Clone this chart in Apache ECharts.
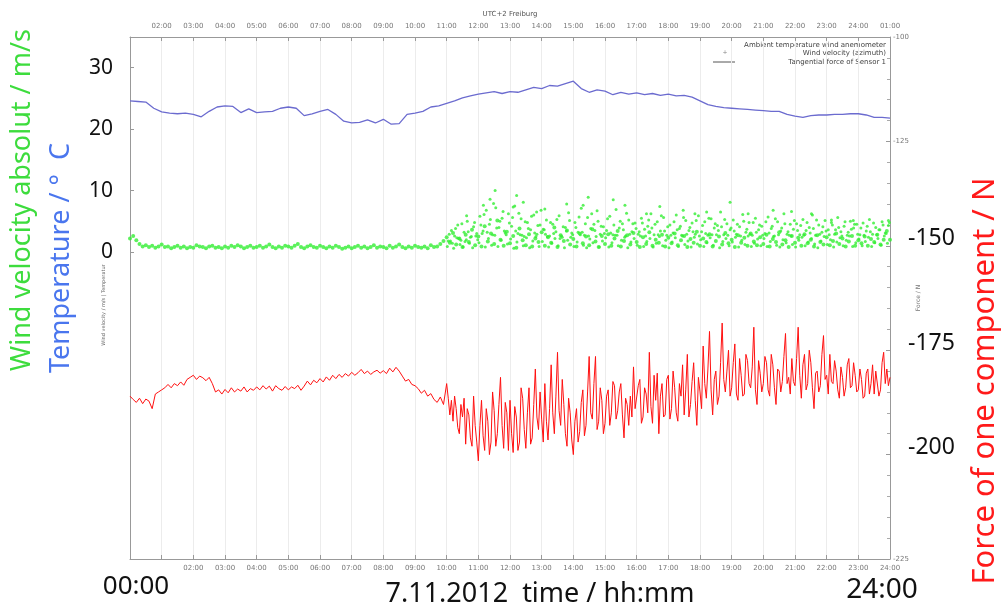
<!DOCTYPE html>
<html>
<head>
<meta charset="utf-8">
<script src="https://cdn.jsdelivr.net/npm/echarts@6/dist/echarts.min.js"></script>
<style>
  html, body { margin: 0; padding: 0; background: #fff; }
  #chart { width: 1003px; height: 607px; }
</style>
</head>
<body>
<div id="chart"></div>
<script>
// time in hours after 00:00 (bottom axis)
const TEMP_STEP = 0.25;
const STEP = 0.1;
const FINE_STEP = 0.05;

// ambient temperature, one value every 15 min, 00:00 .. 24:00
const tempValues = [
  24.6, 24.5, 24.4, 23.4,
  22.8, 22.6, 22.5, 22.6,
  22.4, 22.0, 22.9, 23.6,
  23.8, 23.7, 22.7, 23.3,
  22.7, 22.8, 22.9, 23.4,
  23.6, 23.4, 22.2, 22.5,
  22.9, 23.2, 22.4, 21.3,
  21.0, 21.1, 21.5, 21.0,
  21.6, 20.8, 20.9, 22.4,
  22.6, 22.9, 23.6, 23.8,
  24.2, 24.6, 25.1, 25.4,
  25.7, 25.9, 26.1, 25.8,
  26.1, 26.0, 26.4, 26.8,
  26.6, 27.1, 27.0, 27.4,
  27.8, 26.6, 26.0, 26.4,
  26.2, 25.6, 26.0, 25.7,
  25.9, 25.6, 25.8, 25.5,
  25.7, 25.4, 25.5, 25.2,
  24.6, 24.0, 23.7, 23.5,
  23.4, 23.3, 23.2, 23.1,
  23.0, 22.9, 22.9, 22.4,
  22.1, 21.9, 22.2, 22.3,
  22.3, 22.4, 22.4, 22.5,
  22.5, 22.3, 21.9, 21.9,
  21.8
];

// wind velocity, every 6 min, 00:00 .. 24:00
const windBase = [
  2.2, 2.6, 1.9, 1.3, 0.9, 1.1, 0.8, 1.0, 0.7, 0.9,
  1.2, 0.8, 0.9, 0.6, 0.8, 1.0, 0.7, 0.9, 0.6, 0.8,
  0.7, 1.1, 0.9, 0.8, 0.6, 0.9, 1.0, 0.7, 0.8, 0.6,
  0.9, 0.7, 1.0, 0.8, 1.1, 0.9, 0.6, 0.8, 1.0, 0.7,
  0.8, 1.0, 0.7, 0.9, 1.2, 0.8, 0.6, 0.9, 0.7, 1.0,
  0.9, 0.7, 1.0, 1.3, 0.8, 0.6, 0.9, 1.1, 0.8, 0.7,
  1.0, 0.8, 0.6, 0.9, 0.7, 1.0, 0.8, 0.5, 0.7, 0.9,
  0.6, 0.8, 1.0, 0.7, 0.9, 0.6, 0.8, 1.1, 0.7, 0.9,
  0.8, 0.6, 1.0, 0.7, 0.9, 1.2, 0.8, 0.6, 0.9, 0.7,
  1.0, 0.8, 0.7, 0.9, 0.6, 1.1, 0.8, 0.9, 1.3, 1.8,
  2.4, 1.5, 3.1, 1.2, 2.2, 0.8, 2.8, 1.6, 3.6, 1.1,
  2.5, 0.9, 4.2, 1.7, 3.0, 1.3, 5.1, 2.0, 1.0, 3.3,
  1.4, 2.6, 0.7, 3.8, 1.9, 1.1, 2.9, 0.9, 2.2, 1.6,
  3.2, 1.0, 2.4, 1.5, 4.0, 0.8, 2.7, 1.8, 3.5, 1.2,
  2.1, 0.9, 3.0, 1.4, 2.5, 1.1, 3.7, 1.7, 0.8, 2.6,
  1.3, 2.9, 1.0, 2.2, 3.4, 0.9, 1.8, 2.7, 1.2, 3.1,
  1.6, 0.8, 2.4, 1.3, 3.2, 1.0, 2.0, 1.5, 2.8, 0.9,
  2.3, 1.4, 3.0, 1.1, 1.9, 2.6, 0.8, 2.1, 1.5, 3.3,
  1.0, 2.2, 1.6, 2.9, 0.9, 1.8, 2.5, 1.2, 3.1, 1.4,
  2.0, 0.8, 2.7, 1.5, 2.3, 1.0, 3.0, 1.7, 1.1, 2.4,
  1.3, 2.8, 0.9, 2.1, 1.6, 3.2, 1.2, 1.9, 0.8, 2.6,
  1.5, 2.3, 1.0, 2.9, 1.4, 2.0, 0.9, 2.7, 1.6, 1.2,
  2.4, 1.1, 1.8, 3.0, 1.3, 2.2, 0.9, 1.7, 2.6, 1.0,
  1.9, 1.4, 2.5, 1.0, 2.1, 1.6, 2.8, 1.2, 2.0, 3.4,
  2.0
];

// gusty part of the day: three more readings per 6 min from 10:00 on
const LOW_START = 10.02;
const windLow = [
  0.9, 1.8, 0.6, 2.3, 1.2, 0.8, 2.0, 1.4, 0.7, 2.6,
  1.5, 3.0, 0.8, 2.2, 1.1, 2.7, 0.9, 1.9, 3.4, 1.3,
  2.1, 0.6, 1.6, 2.8, 1.0, 2.3, 0.7, 1.8, 2.5, 0.9,
  1.7, 2.9, 0.8, 1.4, 2.2, 1.0, 2.6, 0.7, 1.9, 2.4,
  0.9, 1.6, 2.8, 1.1, 0.7, 2.1, 1.5, 2.5, 0.8, 1.8,
  2.3, 0.8, 1.5, 2.7, 1.0, 1.9, 2.4, 0.7, 1.6, 2.2,
  1.1, 2.6, 0.9, 1.7, 2.2, 0.8, 1.4, 2.5, 1.0, 1.9,
  0.7, 1.6, 2.3, 0.9, 2.7, 1.2, 1.8, 0.8, 2.4, 1.3,
  2.0, 0.9, 1.5, 2.3, 1.1, 2.8, 0.7, 1.7, 2.2, 1.0,
  1.6, 2.4, 0.8, 1.9, 1.2, 2.6, 0.9, 1.4, 2.1, 1.0,
  2.2, 0.9, 1.7, 2.5, 1.1, 0.8, 2.0, 1.5, 2.7, 1.2,
  0.8, 1.9, 2.4, 1.0, 1.6, 2.2, 1.3, 0.7, 1.8, 2.5,
  1.2, 2.0, 0.8, 1.6, 2.3, 1.0, 1.9, 2.6, 0.9, 1.5,
  2.1, 1.0, 1.7, 2.4, 0.9, 1.5, 2.2, 1.1, 2.6, 1.4
];

const GUST_START = 10.05;
const windGusts = [
  1.8, 3.5, 2.6, 4.4, 1.9, 3.2, 5.0, 2.4, 4.1, 3.0,
  5.8, 3.4, 6.8, 4.5, 2.8, 7.2, 4.0, 5.5, 3.1, 6.2,
  4.2, 7.5, 3.0, 5.4, 2.5, 4.8, 3.6, 6.0, 2.9, 4.4,
  3.7, 5.2, 2.6, 4.5, 3.3, 5.9, 2.4, 4.0, 6.4, 3.1,
  4.8, 3.2, 7.1, 2.7, 5.6, 3.8, 4.5, 6.7, 2.9, 4.1,
  3.5, 5.8, 2.8, 6.9, 3.9, 4.6, 2.6, 5.2, 3.3, 4.7,
  2.9, 5.5, 3.7, 4.2, 6.2, 2.8, 4.9, 3.4, 5.6, 2.7,
  4.4, 3.1, 6.0, 3.8, 2.6, 5.1, 3.5, 4.7, 2.9, 5.9,
  3.3, 4.9, 2.7, 5.4, 3.9, 4.3, 6.5, 2.8, 4.6, 3.6,
  5.2, 2.9, 4.1, 6.1, 3.2, 4.8, 2.7, 5.5, 3.6, 4.2,
  3.0, 5.7, 3.8, 2.6, 4.9, 3.4, 6.2, 2.9, 4.5, 3.7,
  4.6, 2.8, 5.3, 3.5, 4.0, 6.0, 2.7, 4.4, 3.2, 5.1,
  3.6, 4.8, 2.9, 5.6, 3.3, 4.2, 2.7, 5.0, 3.9, 4.5,
  2.8, 4.7, 3.4, 5.3, 2.9, 4.0, 3.6, 4.9, 3.1, 4.3
];

const MID_START = 10.08;
const windMid = [
  2.9, 1.4, 3.8, 2.2, 4.6, 1.7, 3.3, 2.5, 4.8, 2.0,
  4.4, 6.1, 3.2, 5.3, 7.9, 3.9, 5.0, 6.6, 2.8, 4.7,
  5.6, 3.4, 6.3, 2.7, 4.9, 3.8, 5.8, 3.1, 4.3, 6.8,
  3.6, 2.5, 4.8, 3.0, 5.3, 2.2, 4.1, 3.4, 5.1, 2.8,
  4.0, 5.7, 3.2, 4.6, 2.6, 6.2, 3.5, 5.0, 4.2, 3.0,
  5.4, 3.1, 4.4, 2.7, 5.0, 3.6, 6.3, 2.9, 4.6, 3.8,
  3.3, 4.7, 2.6, 5.2, 3.9, 4.5, 2.8, 5.9, 3.4, 4.1,
  2.7, 4.9, 3.6, 4.2, 5.6, 2.9, 4.0, 3.3, 5.1, 2.6,
  4.3, 3.0, 5.5, 2.8, 4.6, 3.5, 4.1, 5.3, 2.7, 3.9,
  3.4, 4.5, 2.6, 5.0, 3.7, 2.9, 4.8, 3.2, 4.4, 2.7,
  4.9, 3.1, 4.2, 5.4, 2.8, 3.9, 4.6, 3.3, 2.6, 5.1,
  3.5, 4.3, 2.7, 4.8, 3.1, 3.8, 5.2, 2.9, 4.1, 3.4,
  2.8, 4.4, 3.6, 4.0, 2.6, 4.9, 3.2, 3.7, 4.5, 2.9,
  3.9, 2.7, 4.2, 3.3, 4.7, 2.8, 3.6, 4.4, 3.0, 4.8
];

// single high readings [hour, m/s]
const windPeaks = [
  [10.63, 5.9], [11.16, 7.6], [11.37, 8.6], [11.53, 10.0], [12.10, 7.3],
  [12.21, 9.2], [12.42, 8.1], [12.84, 6.5], [13.10, 7.0], [13.79, 7.8],
  [14.31, 7.6], [14.47, 8.9], [15.26, 8.5], [15.63, 7.6], [16.31, 6.2],
  [16.73, 7.4], [17.47, 6.8], [17.84, 6.2], [18.21, 6.5], [18.95, 8.1],
  [19.52, 6.2], [20.31, 6.8], [20.89, 6.6], [21.52, 6.2], [22.15, 5.2],
  [22.84, 5.1], [23.95, 5.1]
];

// tangential force of sensor 1: every 6 min 00:00 .. 09:54
const forceEarly = [
  -186.0, -186.8, -187.5, -186.5, -187.8, -186.7, -187.2, -189.0, -185.5, -185.0,
  -184.5, -184.0, -183.2, -184.0, -183.0, -183.5, -182.6, -183.4, -182.0, -181.5,
  -181.0, -182.0, -181.2, -181.6, -182.3, -181.5, -183.0, -185.0, -184.5, -185.5,
  -184.4, -185.2, -184.0, -185.0, -184.3, -184.8, -183.8, -185.0, -184.2, -184.6,
  -183.8, -184.5, -183.5, -184.3, -183.6, -184.8, -183.5, -184.2, -184.6, -183.7,
  -184.5, -183.8, -184.2, -183.4, -184.6, -183.6, -182.4, -183.3, -182.2, -182.8,
  -181.8, -182.6, -181.4, -182.2, -181.0, -181.8, -180.8, -181.5, -180.6, -181.2,
  -180.3, -181.0, -180.4, -179.6, -180.6, -180.0, -180.8, -180.2, -179.8, -180.5,
  -179.9, -180.6, -179.3, -180.2, -179.1, -180.0, -181.2, -182.4, -182.0, -183.2,
  -183.5, -184.2, -185.3, -184.6, -186.0, -185.4, -186.8, -187.5, -186.2, -188.0
];
// ... and every 3 min 10:00 .. 24:00
const FORCE_LATE_START = 10;
const forceLate = [
  -183.0, -186.5, -190.5, -187.0, -192.0, -186.0, -189.0, -193.5, -195.0, -188.0,
  -191.0, -186.5, -197.5, -189.0, -190.5, -196.0, -198.0, -186.0, -193.0, -197.0,
  -201.5, -193.0, -187.0, -195.5, -199.0, -189.0, -192.0, -200.0, -197.0, -185.0,
  -189.5, -198.0, -195.0, -188.0, -181.5, -193.0, -198.5, -187.5, -190.0, -199.0,
  -187.0, -195.0, -199.5, -188.5, -191.0, -199.0, -197.0, -184.0, -186.5, -194.0,
  -198.5, -190.0, -184.0, -197.5, -196.0, -188.0, -179.5, -191.0, -194.0, -185.0,
  -191.5, -197.0, -183.0, -192.0, -196.5, -189.0, -178.5, -190.0, -195.0, -186.0,
  -175.5, -189.5, -193.0, -182.0, -188.0, -195.0, -198.0, -186.5, -190.0, -196.5,
  -200.0, -192.0, -189.0, -197.0, -194.5, -187.5, -184.5, -195.5, -193.0, -185.0,
  -176.5, -190.0, -191.5, -183.0, -176.5, -194.0, -192.0, -184.0, -187.0, -195.0,
  -192.5, -186.0, -184.5, -193.0, -190.0, -182.5, -183.5, -191.5, -189.5, -185.0,
  -183.0, -190.5, -196.0, -186.5, -188.0, -193.0, -186.0, -191.0, -179.0, -189.0,
  -189.0, -183.5, -182.0, -192.5, -191.0, -184.0, -185.5, -190.0, -175.5, -188.5,
  -192.5, -181.0, -187.0, -180.5, -195.0, -186.0, -183.0, -191.0, -190.5, -182.0,
  -181.0, -191.5, -189.0, -180.0, -184.0, -190.0, -192.0, -183.0, -186.0, -178.5,
  -190.5, -184.5, -176.0, -191.0, -188.0, -182.5, -178.0, -187.0, -193.0, -181.5,
  -185.0, -189.0, -174.0, -183.0, -186.5, -179.5, -170.5, -184.5, -190.5, -182.0,
  -180.0, -188.0, -186.0, -178.0, -168.5, -182.0, -185.0, -180.0, -175.0, -186.0,
  -184.0, -178.0, -173.5, -185.5, -187.0, -177.0, -181.0, -186.0, -185.5, -176.0,
  -177.5, -183.0, -184.0, -179.0, -169.5, -184.5, -188.0, -177.5, -180.5, -185.0,
  -183.0, -176.5, -178.0, -184.5, -186.0, -176.0, -178.5, -184.0, -188.0, -179.5,
  -180.0, -185.0, -182.5, -176.5, -171.0, -183.0, -181.5, -185.5, -177.0, -182.5,
  -183.5, -177.0, -169.5, -181.0, -186.5, -178.5, -176.0, -184.5, -183.0, -175.0,
  -178.0, -184.0, -189.0, -180.5, -180.0, -185.0, -183.5, -176.0, -171.5, -182.0,
  -181.0, -185.5, -176.0, -182.5, -183.0, -177.5, -180.0, -184.5, -186.5, -179.0,
  -181.5, -186.0, -184.0, -178.5, -177.0, -184.0, -183.5, -178.0, -181.0, -185.0,
  -184.5, -179.5, -182.0, -186.5, -186.0, -180.5, -179.5, -185.5, -183.0, -178.5,
  -185.5, -180.0, -180.0, -186.0, -184.5, -178.0, -175.5, -183.0, -179.5, -183.5,
  -181.5
];

// tick labels
const leftLabels = [0, 10, 20, 30];
const bigForceLabels = [-150, -175, -200];

const pad = (h) => (h < 10 ? '0' + h : '' + h) + ':00';

const chart = echarts.init(document.getElementById('chart'));

const small = { fontSize: 7, color: '#777', fontFamily: 'DejaVu Sans' };
const green = '#33ee33';

const forceData = forceEarly.map((v, i) => [i * STEP, v])
  .concat(forceLate.map((v, i) => [FORCE_LATE_START + i * FINE_STEP, v]));

chart.setOption({
  animation: false,
  backgroundColor: '#fff',
  grid: { left: 130, right: 113, top: 37, bottom: 48 },
  xAxis: [
    {
      type: 'value', position: 'bottom', min: 0, max: 24, interval: 1,
      axisLine: { onZero: false, lineStyle: { color: '#999' } },
      axisTick: { inside: true, length: 4, lineStyle: { color: '#999' } },
      axisLabel: Object.assign({ margin: 6, formatter: (v) => (v <= 1 ? '' : pad(v)) }, small),
      splitLine: { show: true, lineStyle: { color: '#ececec' } }
    },
    {
      type: 'value', position: 'top', min: 1, max: 25, interval: 1,
      axisLine: { onZero: false, lineStyle: { color: '#999' } },
      axisTick: { inside: true, length: 4, lineStyle: { color: '#999' } },
      axisLabel: Object.assign({ margin: 7, formatter: (v) => (v === 1 ? '' : pad(v > 24 ? v - 24 : v)) }, small),
      splitLine: { show: false }
    }
  ],
  yAxis: [
    {
      type: 'value', position: 'left', min: -50, max: 35, interval: 10,
      axisLine: { show: true, onZero: false, lineStyle: { color: '#999' } },
      axisTick: { show: true, inside: true, length: 4, customValues: leftLabels, lineStyle: { color: '#999' } },
      axisLabel: {
        customValues: leftLabels, fontSize: 21, color: '#111', margin: 17,
        fontFamily: 'Noto Sans', padding: [0, 0, 6, 0]
      },
      splitLine: { show: false }
    },
    {
      type: 'value', position: 'right', min: -225, max: -100, interval: 25,
      axisLine: { show: true, onZero: false, lineStyle: { color: '#999' } },
      axisTick: { show: true, inside: true, length: 4, lineStyle: { color: '#999' } },
      minorTick: { show: true, splitNumber: 5, length: 3, lineStyle: { color: '#aaa' } },
      axisLabel: {
        margin: 3,
        formatter: (v) => (bigForceLabels.indexOf(v) >= 0 ? '{b|' + v + '}' : '{s|' + v + '}'),
        rich: {
          s: small,
          b: { fontSize: 23, color: '#111', fontFamily: 'Noto Sans', padding: [0, 0, 14, 15] }
        }
      },
      splitLine: { show: false }
    }
  ],
  series: [
    {
      name: 'Ambient temperature wind anemometer', type: 'line',
      xAxisIndex: 0, yAxisIndex: 0, showSymbol: false,
      lineStyle: { color: '#6b6bcf', width: 1.3 },
      data: tempValues.map((v, i) => [i * TEMP_STEP, v])
    },
    {
      name: 'Wind velocity (azimuth)', type: 'scatter',
      xAxisIndex: 0, yAxisIndex: 0, symbolSize: 4,
      itemStyle: { color: green },
      data: windBase.map((v, i) => [i * STEP, v])
    },
    {
      name: 'Wind velocity low', type: 'scatter',
      xAxisIndex: 0, yAxisIndex: 0, symbolSize: 3,
      itemStyle: { color: green },
      data: windLow.map((v, i) => [LOW_START + i * STEP, v])
    },
    {
      name: 'Wind velocity gusts', type: 'scatter',
      xAxisIndex: 0, yAxisIndex: 0, symbolSize: 3,
      itemStyle: { color: green },
      data: windGusts.map((v, i) => [GUST_START + i * STEP, v])
    },
    {
      name: 'Wind velocity mid', type: 'scatter',
      xAxisIndex: 0, yAxisIndex: 0, symbolSize: 3,
      itemStyle: { color: green },
      data: windMid.map((v, i) => [MID_START + i * STEP, v])
    },
    {
      name: 'Wind velocity peaks', type: 'scatter',
      xAxisIndex: 0, yAxisIndex: 0, symbolSize: 3,
      itemStyle: { color: green },
      data: windPeaks
    },
    {
      name: 'Tangential force of Sensor 1', type: 'line',
      xAxisIndex: 0, yAxisIndex: 1, showSymbol: false,
      lineStyle: { color: '#ff1010', width: 1 },
      data: forceData
    }
  ],
  graphic: [
    // titles
    { type: 'text', x: 510, y: 14, style: { text: 'UTC+2 Freiburg', font: '7px DejaVu Sans', fill: '#555', align: 'center', verticalAlign: 'middle' } },
    { type: 'text', x: 22, y: 200, rotation: Math.PI / 2, style: { text: 'Wind velocity absolut / m/s', font: '27px Noto Sans', fill: '#3ddc3d', align: 'center', verticalAlign: 'middle' } },
    { type: 'text', x: 61, y: 258, rotation: Math.PI / 2, style: { text: 'Temperature / °  C', font: '27px Noto Sans', fill: '#4a76ee', align: 'center', verticalAlign: 'middle' } },
    { type: 'text', x: 104, y: 305, rotation: Math.PI / 2, style: { text: 'Wind velocity / m/s | Temperatur', font: '5px DejaVu Sans', fill: '#666', align: 'center', verticalAlign: 'middle' } },
    { type: 'text', x: 985, y: 381, rotation: Math.PI / 2, style: { text: 'Force of one component / N', font: '31px Noto Sans', fill: '#ff1a1a', align: 'center', verticalAlign: 'middle' } },
    { type: 'text', x: 918, y: 298, rotation: Math.PI / 2, style: { text: 'Force / N', font: '6px DejaVu Sans', fill: '#777', align: 'center', verticalAlign: 'middle' } },
    { type: 'text', x: 136, y: 587, style: { text: '00:00', font: '26px Noto Sans', fill: '#111', align: 'center', verticalAlign: 'middle' } },
    { type: 'text', x: 540, y: 594, style: { text: '7.11.2012  time / hh:mm', font: '27px Noto Sans', fill: '#111', align: 'center', verticalAlign: 'middle' } },
    { type: 'text', x: 882, y: 590, style: { text: '24:00', font: '28px Noto Sans', fill: '#111', align: 'center', verticalAlign: 'middle' } },
    // legend
    { type: 'text', x: 886, y: 45, style: { text: 'Ambient temperature wind anemometer', font: '7px DejaVu Sans', fill: '#444', align: 'right', verticalAlign: 'middle' } },
    { type: 'text', x: 886, y: 53, style: { text: 'Wind velocity (azimuth)', font: '7px DejaVu Sans', fill: '#444', align: 'right', verticalAlign: 'middle' } },
    { type: 'text', x: 886, y: 62, style: { text: 'Tangential force of Sensor 1', font: '7px DejaVu Sans', fill: '#444', align: 'right', verticalAlign: 'middle' } },
    { type: 'text', x: 725, y: 52, style: { text: '+', font: '6px DejaVu Sans', fill: '#888', align: 'center', verticalAlign: 'middle' } },
    { type: 'line', shape: { x1: 713, y1: 62, x2: 735, y2: 62 }, style: { stroke: '#555', lineWidth: 1 } }
  ]
});
</script>
</body>
</html>
